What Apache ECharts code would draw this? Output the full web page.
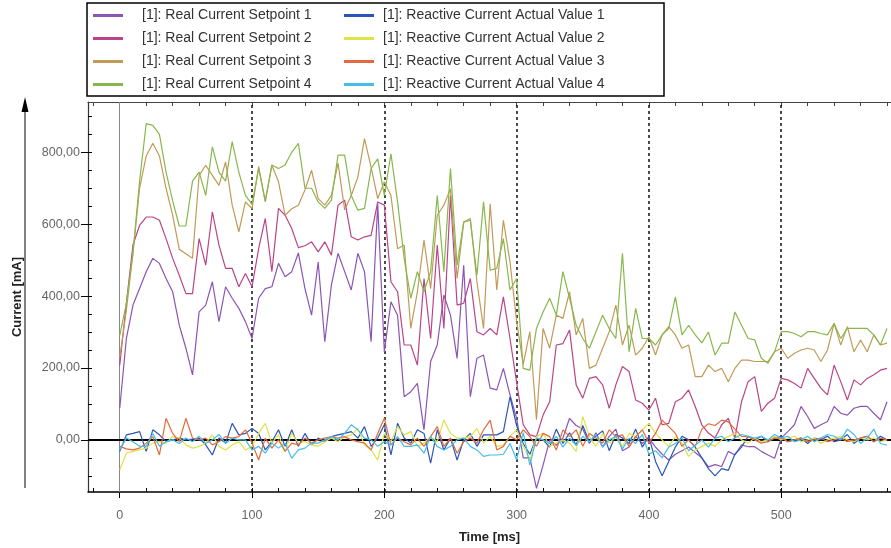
<!DOCTYPE html>
<html><head><meta charset="utf-8">
<script src="https://cdn.jsdelivr.net/npm/echarts@6/dist/echarts.min.js"></script>
<style>html,body{margin:0;padding:0;background:#fff}#c{width:891px;height:548px}</style>
</head><body><div id="c"></div>
<script>
// sample times [ms]
const times = [0,5,10,15,20,25,30,35,40,45,50,55,60,65,70,75,80,85,90,95,100,105,110,115,120,125,130,135,140,145,150,155,160,165,170,175,180,185,190,195,200,205,210,215,220,225,230,235,240,245,250,255,260,265,270,275,280,285,290,295,300,305,310,315,320,325,330,335,340,345,350,355,360,365,370,375,380,385,390,395,400,405,410,415,420,425,430,435,440,445,450,455,460,465,470,475,480,485,490,495,500,505,510,515,520,525,530,535,540,545,550,555,560,565,570,575,580];

const seriesNames = ['[1]: Real Current Setpoint 1','[1]: Real Current Setpoint 2','[1]: Real Current Setpoint 3','[1]: Real Current Setpoint 4',
  '[1]: Reactive Current Actual Value 1','[1]: Reactive Current Actual Value 2','[1]: Reactive Current Actual Value 3','[1]: Reactive Current Actual Value 4'];

const setpoint1 = [88,282,375,421,468,505,491,449,412,319,255,181,356,375,440,329,426,394,366,329,282,394,421,426,491,454,468,520,421,347,
  495,273,431,519,468,417,519,468,273,657,245,384,347,120,134,157,28,218,264,403,347,227,486,120,227,236,144,139,199,125,60,
  -50,-50,-135,-70,0,-15,5,60,40,30,-10,20,-20,10,30,-30,-20,10,-10,5,-20,-40,-56,-40,-30,-20,-35,-50,-75,
  -69,-74,-32,-42,-14,-19,-19,-32,-42,-51,5,23,42,93,65,32,42,51,93,74,69,88,93,93,74,56,106];
const setpoint2 = [208,380,542,597,620,620,611,560,505,458,407,407,560,486,634,542,477,477,426,463,426,532,616,468,644,625,588,535,540,551,
  523,551,514,653,667,565,556,565,569,662,653,440,412,264,264,208,449,282,542,310,680,375,380,449,301,292,310,292,398,282,160,
  42,14,9,69,106,264,268,306,153,116,171,176,153,88,153,204,190,111,102,83,116,42,46,106,116,139,93,42,19,
  5,42,60,5,106,162,176,79,102,116,171,167,157,144,199,171,144,125,208,162,111,167,153,171,181,194,199];
const setpoint3 = [230,360,520,700,790,825,790,700,625,530,518,505,736,764,736,708,773,653,579,662,643,760,662,764,718,625,643,653,695,750,
  671,653,680,770,640,680,731,838,759,671,718,680,532,542,310,412,556,421,625,653,699,449,606,616,440,310,657,417,611,495,330,
  210,301,56,310,255,347,338,412,292,338,199,208,255,301,375,264,319,236,255,287,236,292,315,292,255,264,176,176,208,
  190,199,162,199,222,222,218,218,218,245,255,227,241,250,255,250,218,250,324,264,315,245,278,245,292,264,269];
const setpoint4 = [290,380,520,720,880,875,850,745,665,595,595,720,745,680,815,745,720,830,745,680,655,755,665,765,755,765,800,825,700,700,
  662,644,667,792,792,680,639,644,755,782,680,796,662,505,394,468,412,468,680,468,755,486,606,611,458,662,472,477,560,417,449,
  199,194,310,356,394,347,468,394,319,282,255,301,347,310,282,519,245,366,282,282,264,292,310,398,292,319,292,270,300,
  236,269,269,356,319,282,278,227,213,245,301,301,296,287,301,301,296,292,324,282,310,310,310,310,292,264,310];
const reactive1 = [-32,14,18,23,-32,28,14,-5,0,5,0,2,
  5,-14,-42,5,-9,46,14,18,32,18,-28,-5,
  28,-18,28,-18,18,-14,5,-5,9,14,18,23,
  5,37,-18,5,42,-42,46,5,-9,28,18,-65,
  28,-28,5,-56,0,18,-18,14,14,14,23,120,
  40,-10,-40,5,0,-20,30,-10,20,-15,40,-5,
  10,25,-30,15,5,-10,30,-20,10,-60,-100,-60,
  -20,10,0,-20,-50,-80,-100,-80,-85,-40,-20,10,
  0,10,-5,5,10,-5,0,5,-10,5,0,10,
  -5,0,15,-10,5,10,-5,10,0];
const reactive2 = [-83,-37,-32,-28,-23,-9,-5,-9,9,5,-14,-23,
  -18,-9,14,-18,-28,-14,-5,-28,-18,18,46,-9,
  14,-32,18,-9,-5,-14,-18,-5,5,-5,9,14,
  32,-14,-28,-56,18,-5,37,14,23,-18,-9,9,
  -5,55,18,5,5,9,32,-9,9,-18,-14,10,
  28,-18,-56,9,18,-18,-9,0,-9,-32,65,9,
  -18,18,-9,9,-18,18,9,28,46,18,0,-18,
  9,-9,-46,-28,-18,-9,-18,0,9,18,0,-9,
  5,-5,0,9,0,5,10,-5,0,5,-10,0,
  5,10,0,-5,5,0,5,-5,0];
const reactive3 = [-18,-25,-28,-23,-9,9,-42,60,18,-5,60,5,
  0,5,-14,-5,9,5,9,28,-9,-56,5,-23,
  0,-32,-9,-14,5,-9,0,5,9,5,9,0,
  -5,-9,-28,18,60,-14,5,-5,-14,5,-18,9,
  37,-18,5,-37,-5,5,-9,28,55,-28,-18,10,
  0,28,9,-18,18,9,-28,28,9,28,-18,18,
  5,-9,28,9,14,-18,9,28,-9,18,55,37,
  18,-18,0,-18,30,45,40,55,50,30,10,9,
  0,-9,-5,5,5,-5,0,5,-5,0,5,-5,
  0,5,-5,0,5,10,-5,5,0];
const reactive4 = [-28,5,-5,-18,-18,18,-18,-5,0,-10,5,-5,
  10,-10,0,15,-10,5,0,0,-28,-18,-37,-9,
  -23,-9,-51,-28,-23,-9,-9,0,9,0,18,42,
  28,5,0,-18,-5,-14,9,-18,-18,-14,-37,9,
  -18,-28,-18,0,5,-18,-28,-46,-42,-42,-40,-10,
  -55,20,-70,5,0,-10,10,-20,5,-15,10,-5,
  15,-20,0,10,-25,5,-10,15,-40,-30,-50,-20,
  -10,5,-30,-15,0,-20,5,10,-5,5,15,10,
  5,10,0,15,5,10,-5,0,10,-5,5,15,
  10,0,30,15,-10,5,30,-10,-15];

const yTicks = [0,200,400,600,800];
const yMinorTicks = [-100,-50,0,50,100,150,200,250,300,350,400,450,500,550,600,650,700,750,800,850,900];
const xTicks = [0,100,200,300,400,500];
const xMinorTicks = [-20,0,20,40,60,80,100,120,140,160,180,200,220,240,260,280,300,320,340,360,380,400,420,440,460,480,500,520,540,560,580];
const dashedLines = [100,200,300,400,500];

const colors = ['#8c55b4','#bb4488','#c29a58','#86b84c','#2b55b8','#dfe34a','#e36a3e','#45bde6'];
const allData = [setpoint1,setpoint2,setpoint3,setpoint4,reactive1,reactive2,reactive3,reactive4];

const X_MIN = -24, X_MAX = 583, Y_MIN = -145, Y_MAX = 940;
const FONT = 'Liberation Sans, Arial, sans-serif';

const series = allData.map((arr, i) => ({
  name: seriesNames[i], type: 'line', xAxisIndex: 0, yAxisIndex: 0,
  data: times.map((t, j) => [t, arr[j]]),
  showSymbol: false, symbol: 'none', color: colors[i],
  lineStyle: { width: 1.2, color: colors[i] }, z: 3, silent: true
}));
series[0].markLine = {
  silent: true, symbol: 'none', label: { show: false }, z: 2,
  data: [
    ...dashedLines.map(v => ({ xAxis: v, lineStyle: { color: '#111', width: 1.5, type: [3, 3] } })),
    { xAxis: 0, lineStyle: { color: '#888', width: 1, type: 'solid' } },
    { yAxis: 0, lineStyle: { color: '#000', width: 2, type: 'solid' } }
  ]
};

const legendText = (pad) => ({ fontSize: 14, color: '#333', fontFamily: FONT, lineHeight: 15, padding: [0, 0, 0, pad] });
const legendBase = {
  orient: 'vertical', top: 8, itemWidth: 30, itemHeight: 3, itemGap: 8, icon: 'rect', padding: 0,
  selectedMode: false
};

const chart = echarts.init(document.getElementById('c'), null, { renderer: 'canvas' });
chart.setOption({
  animation: false,
  backgroundColor: '#fff',
  textStyle: { fontFamily: FONT },
  grid: { left: 88, top: 102, right: 0, bottom: 56, containLabel: false, outerBoundsMode: 'none' },
  legend: [
    Object.assign({}, legendBase, { left: 93, data: seriesNames.slice(0, 4), textStyle: legendText(14) }),
    Object.assign({}, legendBase, { left: 344, data: seriesNames.slice(4), textStyle: legendText(4) })
  ],
  xAxis: [
    { type: 'value', position: 'bottom', min: X_MIN, max: X_MAX,
      axisLine: { show: true, onZero: false, lineStyle: { color: '#000', width: 1.5 } },
      axisTick: { show: true, customValues: xTicks, length: 6, lineStyle: { color: '#000' } },
      axisLabel: { customValues: xTicks, color: '#666', fontSize: 12.5, margin: 17 },
      splitLine: { show: false },
      name: 'Time [ms]', nameLocation: 'middle', nameGap: 39,
      nameTextStyle: { fontSize: 13, fontWeight: 'bold', color: '#222' } },
    { type: 'value', position: 'bottom', min: X_MIN, max: X_MAX,
      axisLine: { show: false, onZero: false },
      axisTick: { show: true, customValues: xMinorTicks, inside: true, length: 4, lineStyle: { color: '#000' } },
      axisLabel: { show: false }, splitLine: { show: false } },
    { type: 'value', position: 'top', min: X_MIN, max: X_MAX,
      axisLine: { show: true, onZero: false, lineStyle: { color: '#444', width: 1.2 } },
      axisTick: { show: true, customValues: xMinorTicks, inside: true, length: 4, lineStyle: { color: '#444' } },
      axisLabel: { show: false }, splitLine: { show: false } }
  ],
  yAxis: [
    { type: 'value', position: 'left', min: Y_MIN, max: Y_MAX,
      axisLine: { show: true, onZero: false, lineStyle: { color: '#333', width: 1.2 } },
      axisTick: { show: true, customValues: yTicks, length: 7, lineStyle: { color: '#000' } },
      axisLabel: { customValues: yTicks, color: '#666', fontSize: 12.5, margin: 8,
        formatter: v => v.toFixed(2).replace('.', ',') },
      splitLine: { show: false },
      name: 'Current [mA]', nameLocation: 'middle', nameGap: 64,
      nameTextStyle: { fontSize: 13, fontWeight: 'bold', color: '#222' } },
    { type: 'value', position: 'left', min: Y_MIN, max: Y_MAX,
      axisLine: { show: false, onZero: false },
      axisTick: { show: true, customValues: yMinorTicks, inside: true, length: 4, lineStyle: { color: '#000' } },
      axisLabel: { show: false }, splitLine: { show: false } }
  ],
  graphic: [
    { type: 'rect', shape: { x: 87, y: 3, width: 577, height: 93 }, style: { fill: 'none', stroke: '#000', lineWidth: 1.5 }, silent: true },
    { type: 'line', shape: { x1: 25, y1: 488, x2: 25, y2: 108 }, style: { stroke: '#000', lineWidth: 1 }, silent: true },
    { type: 'polygon', shape: { points: [[21.5, 112], [28.5, 112], [25, 97]] }, style: { fill: '#000' }, silent: true }
  ],
  series
});
</script></body></html>
